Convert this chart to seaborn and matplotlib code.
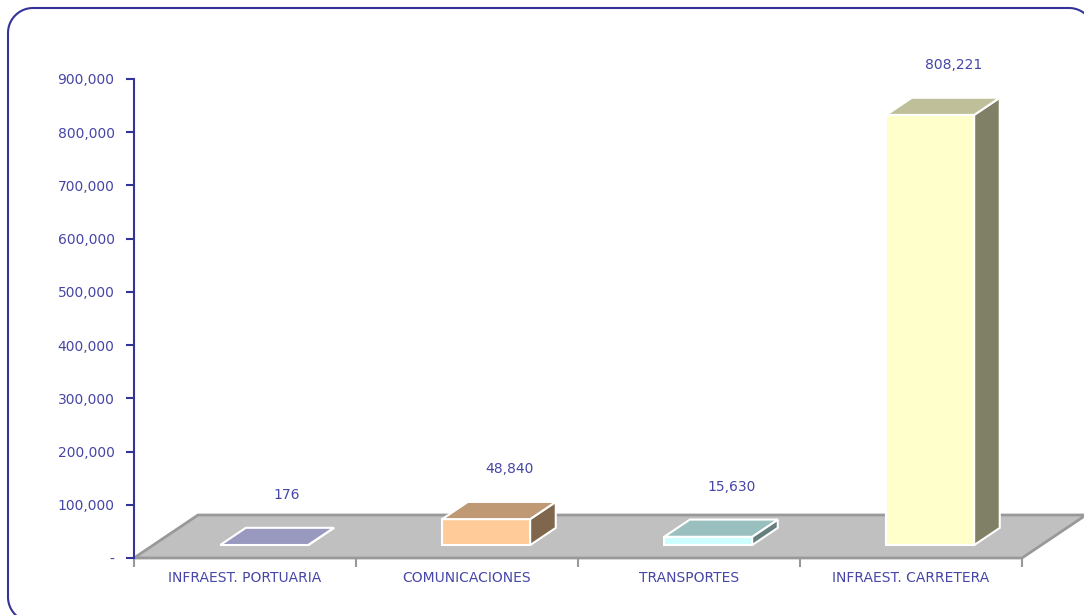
import numpy as np
import pandas as pd
import matplotlib
matplotlib.use("Agg")
import matplotlib.pyplot as plt
import seaborn as sns
from matplotlib.patches import Polygon, PathPatch
from matplotlib.path import Path
from matplotlib.transforms import IdentityTransform
from matplotlib.colors import to_rgb

# ---- data ----
categories = ["INFRAEST. PORTUARIA", "COMUNICACIONES", "TRANSPORTES", "INFRAEST. CARRETERA"]
values = [176, 48840, 15630, 808221]
value_labels = ["176", "48,840", "15,630", "808,221"]
front_colors = ["#CCCCFF", "#FFCC99", "#CCFFFF", "#FFFFCC"]
yticks = [0, 100000, 200000, 300000, 400000, 500000, 600000, 700000, 800000, 900000]
ytick_labels = ["-", "100,000", "200,000", "300,000", "400,000", "500,000",
                "600,000", "700,000", "800,000", "900,000"]

TEXT = "#4646A6"
NAVY = "#333399"
GRAY_EDGE = "#999999"

sns.set_theme(style="white")
plt.rcParams["font.family"] = ["DejaVu Sans"]

W, H = 1084, 615
fig = plt.figure(figsize=(W / 100, H / 100), dpi=100)
fig.patch.set_facecolor("white")
ax = fig.add_axes([134 / W, (H - 558) / H, 888 / W, 479 / H])
ax.set_facecolor("none")

ymax = 900000
ax.set_xlim(-0.5, 3.5)
ax.set_ylim(0, ymax)

# depth of the 3D floor in data units
px_per_x = 888 / 4.0
px_per_y = 479 / ymax
DX = 64 / px_per_x
DY = 43 / px_per_y

# floor
floor = Polygon([(-0.5, 0), (3.5, 0), (3.5 + DX, DY), (-0.5 + DX, DY)], closed=True,
                facecolor="#C0C0C0", edgecolor=GRAY_EDGE, lw=2, zorder=1, clip_on=False)
ax.add_patch(floor)

# front faces via seaborn
df = pd.DataFrame({"cat": categories, "val": values})
sns.barplot(data=df, x="cat", y="val", hue="cat", palette=front_colors, legend=False,
            saturation=1, width=0.396, edgecolor="white", linewidth=1.5, ax=ax, zorder=3)

f1, f2 = 0.30, 0.70
bx, by = f1 * DX, f1 * DY
ddx, ddy = (f2 - f1) * DX, (f2 - f1) * DY

patches = list(ax.patches[1:])  # skip floor
for p, col in zip(patches, front_colors):
    p.set_x(p.get_x() + bx)
    p.set_y(by)
    p.set_clip_on(False)
    x0 = p.get_x(); x1 = x0 + p.get_width()
    y0 = p.get_y(); y1 = y0 + p.get_height()
    rgb = np.array(to_rgb(col))
    top = Polygon([(x0, y1), (x1, y1), (x1 + ddx, y1 + ddy), (x0 + ddx, y1 + ddy)],
                  closed=True, facecolor=rgb * 0.75, edgecolor="white", lw=1.5,
                  zorder=3, clip_on=False)
    side = Polygon([(x1, y0), (x1 + ddx, y0 + ddy), (x1 + ddx, y1 + ddy), (x1, y1)],
                   closed=True, facecolor=rgb * 0.5, edgecolor="white", lw=1.5,
                   zorder=3, clip_on=False)
    ax.add_patch(side)
    ax.add_patch(top)

# value labels
for i, (v, lab) in enumerate(zip(values, value_labels)):
    ax.text(i + 0.19, v + 118000, lab, ha="center", va="center", color=TEXT, fontsize=10)

# axes styling
ax.set_xlabel("")
ax.set_ylabel("")
ax.set_yticks(yticks)
ax.set_yticklabels(ytick_labels)
ax.tick_params(axis="y", direction="out", length=6, width=1.5, color=NAVY, pad=8,
               labelcolor=TEXT, labelsize=10, left=True)
ax.set_xticks([-0.5, 0.5, 1.5, 2.5, 3.5])
ax.set_xticklabels([])
ax.set_xticks([0, 1, 2, 3], minor=True)
ax.set_xticklabels(categories, minor=True)
ax.tick_params(axis="x", which="major", direction="out", length=6.5, width=1.5,
               color=GRAY_EDGE, bottom=True)
ax.tick_params(axis="x", which="minor", length=0, pad=9, labelcolor=TEXT, labelsize=10)
for s in ["top", "right", "bottom"]:
    ax.spines[s].set_visible(False)
ax.spines["left"].set_color(NAVY)
ax.spines["left"].set_linewidth(1.5)
ax.spines["left"].set_zorder(5)
ax.grid(False)

# rounded border (pixel coordinates, y from bottom)
def rounded_rect_path(x0, y0, x1, y1, r):
    verts = []
    codes = []
    def arc(cx, cy, a0, a1):
        t = np.linspace(np.radians(a0), np.radians(a1), 24)
        return [(cx + r * np.cos(a), cy + r * np.sin(a)) for a in t]
    pts = []
    pts += arc(x1 - r, y1 - r, 0, 90)      # top-right
    pts += arc(x0 + r, y1 - r, 90, 180)    # top-left
    pts += arc(x0 + r, y0 + r, 180, 270)   # bottom-left
    pts += arc(x1 - r, y0 + r, 270, 360)   # bottom-right
    pts.append(pts[0])
    codes = [Path.MOVETO] + [Path.LINETO] * (len(pts) - 1)
    return Path(pts, codes)

bpath = rounded_rect_path(8, H - 622, 1094, H - 8, 25)
border = PathPatch(bpath, transform=IdentityTransform(), fill=False,
                   edgecolor=NAVY, lw=1.5)
fig.add_artist(border)

fig.savefig("out.png", dpi=100)
